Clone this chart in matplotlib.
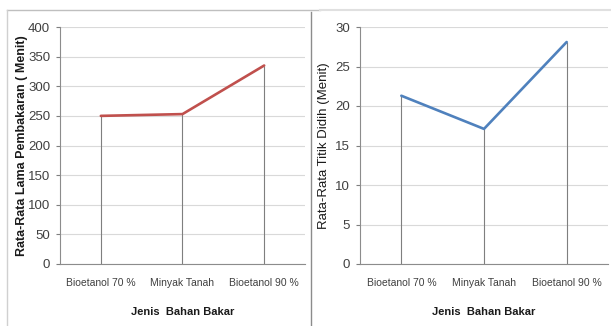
import matplotlib
matplotlib.use('Agg')
import matplotlib.pyplot as plt
from matplotlib.lines import Line2D

# fuel types and averages
categories = ['Bioetanol 70 %', 'Minyak Tanah', 'Bioetanol 90 %']
burn_time = [250, 253, 335]        # rata-rata lama pembakaran (menit)
boil_time = [21.3, 17.1, 28.1]     # rata-rata titik didih (menit)

W, H = 611, 326
sans = ['Liberation Sans', 'DejaVu Sans']
grey_txt = '#404040'


def draw_panel(ax, values, color, ylim, ystep, ylabel, ylabel_weight,
               ylabel_size, ylabel_x):
    x = range(len(values))
    ax.set_xlim(-0.5, len(values) - 0.5)
    ax.set_ylim(*ylim)
    ax.set_yticks(range(ylim[0], ylim[1] + 1, ystep))
    ax.grid(axis='y', color='#d9d9d9', lw=0.8)
    ax.set_axisbelow(True)
    # drop lines from each point down to the axis
    ax.vlines(x, 0, values, color='#7f7f7f', lw=0.8, zorder=2)
    ax.plot(x, values, color=color, lw=1.9, solid_capstyle='round', zorder=3)
    ax.set_xticks(list(x))
    ax.set_xticklabels(categories, family=sans, fontsize=7.5, color=grey_txt)
    for lab in ax.get_yticklabels():
        lab.set_family(sans)
        lab.set_fontsize(9.5)
        lab.set_color(grey_txt)
    ax.tick_params(axis='x', length=0, pad=10)
    ax.tick_params(axis='y', length=3, color='#7f7f7f', pad=4)
    for side in ('top', 'right'):
        ax.spines[side].set_visible(False)
    for side in ('left', 'bottom'):
        ax.spines[side].set_color('#8c8c8c')
        ax.spines[side].set_linewidth(0.8)
    ax.set_xlabel('Jenis  Bahan Bakar', family=sans, fontsize=8,
                  fontweight='bold', color='#1a1a1a')
    ax.xaxis.set_label_coords(0.5, -0.181)
    ax.set_ylabel(ylabel, family=sans, fontsize=ylabel_size,
                  fontweight=ylabel_weight, color='#1a1a1a')
    ax.yaxis.set_label_coords(ylabel_x, 0.5)


fig = plt.figure(figsize=(W / 100, H / 100), dpi=100)

ax1 = fig.add_axes([60 / W, 1 - 264 / H, 245 / W, 237 / H])
draw_panel(ax1, burn_time, '#c0504d', (0, 400), 50,
           'Rata-Rata Lama Pembakaran ( Menit)', 'bold', 9, -0.13)

ax2 = fig.add_axes([360 / W, 1 - 264 / H, 248 / W, 237 / H])
draw_panel(ax2, boil_time, '#4f81bd', (0, 30), 5,
           'Rata-Rata Titik Didih (Menit)', 'normal', 9.5, -0.121)

# frames around the two charts
def fline(xs, ys, color, lw=1.0):
    fig.add_artist(Line2D([v / W for v in xs], [1 - v / H for v in ys],
                          color=color, lw=lw, transform=fig.transFigure))

fline([7, 320], [10, 10], '#bfbfbf')
fline([7, 7], [10, 326], '#d0d0d0')
fline([311, 311], [12, 326], '#8c8c8c')
fline([320, 611], [10, 10], '#e0e0e0', lw=1.5)

fig.savefig('out.png', dpi=100)
